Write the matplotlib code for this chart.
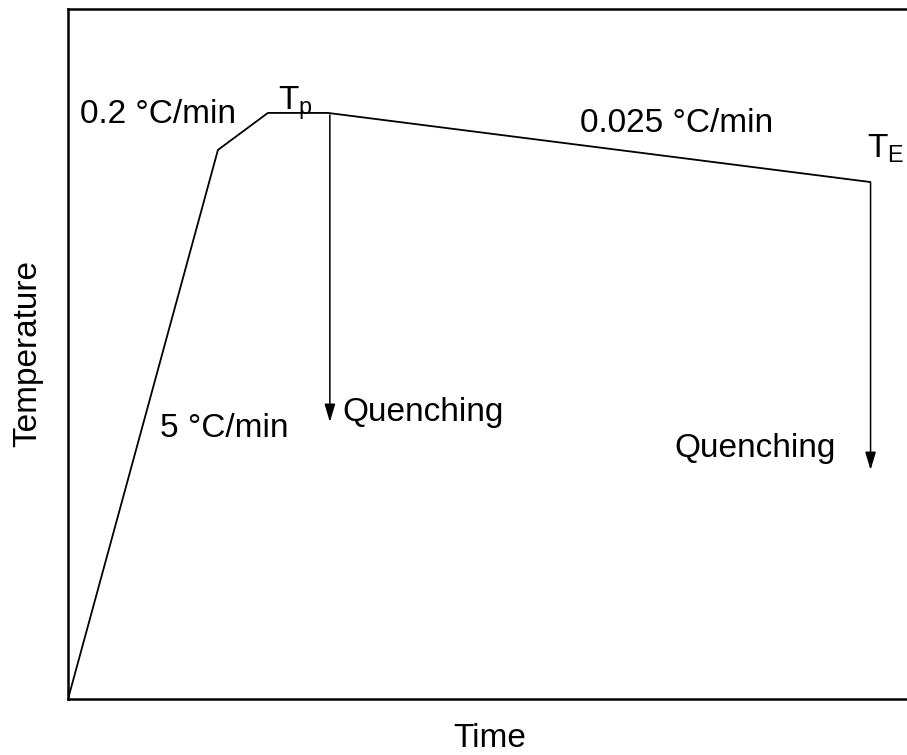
import matplotlib.pyplot as plt

plt.rcParams['font.family'] = ['Liberation Sans', 'DejaVu Sans']
plt.rcParams['mathtext.fontset'] = 'custom'
plt.rcParams['mathtext.rm'] = 'Liberation Sans'
plt.rcParams['mathtext.default'] = 'regular'

# heat treatment profile (arbitrary time / temperature units)
time = [0, 150, 200, 260, 802]
temp = [0, 549, 586, 586, 517]

# quench arrows: (time, start temp, end temp)
quench_t = [262, 803]
quench_from = [584, 517]
quench_to = [277, 229]

# labels: (text, x, y baseline)
labels = ["0.2 °C/min", "5 °C/min", "0.025 °C/min", "Quenching", "Quenching",
          "T$_{p}$", "T$_{E}$"]
label_x = [12, 92, 512, 275, 607, 210, 799]
label_y = [576, 262, 567, 278, 242, 589, 541]


def main():
    fig = plt.figure(figsize=(9.07, 7.55), dpi=100)
    ax = fig.add_axes([0.075, 0.0742, 0.93, 0.914])

    ax.plot(time, temp, color="black", lw=1.3)

    for t, a, b in zip(quench_t, quench_from, quench_to):
        ax.annotate("", xy=(t, b), xytext=(t, a),
                    arrowprops=dict(arrowstyle="-|>,head_length=0.6,head_width=0.18",
                                    color="black", lw=1.1, mutation_scale=18,
                                    shrinkA=0, shrinkB=0))

    for s, x, y in zip(labels, label_x, label_y):
        ax.text(x, y, s, fontsize=24, ha="left", va="baseline")

    ax.set_xlim(0, 844)
    ax.set_ylim(0, 690)
    ax.set_xticks([])
    ax.set_yticks([])
    for sp in ax.spines.values():
        sp.set_linewidth(1.8)
    ax.set_xlabel("Time", fontsize=24, labelpad=17)
    ax.set_ylabel("Temperature", fontsize=24, labelpad=18)

    fig.savefig("out.png", dpi=100)


if __name__ == "__main__":
    main()
